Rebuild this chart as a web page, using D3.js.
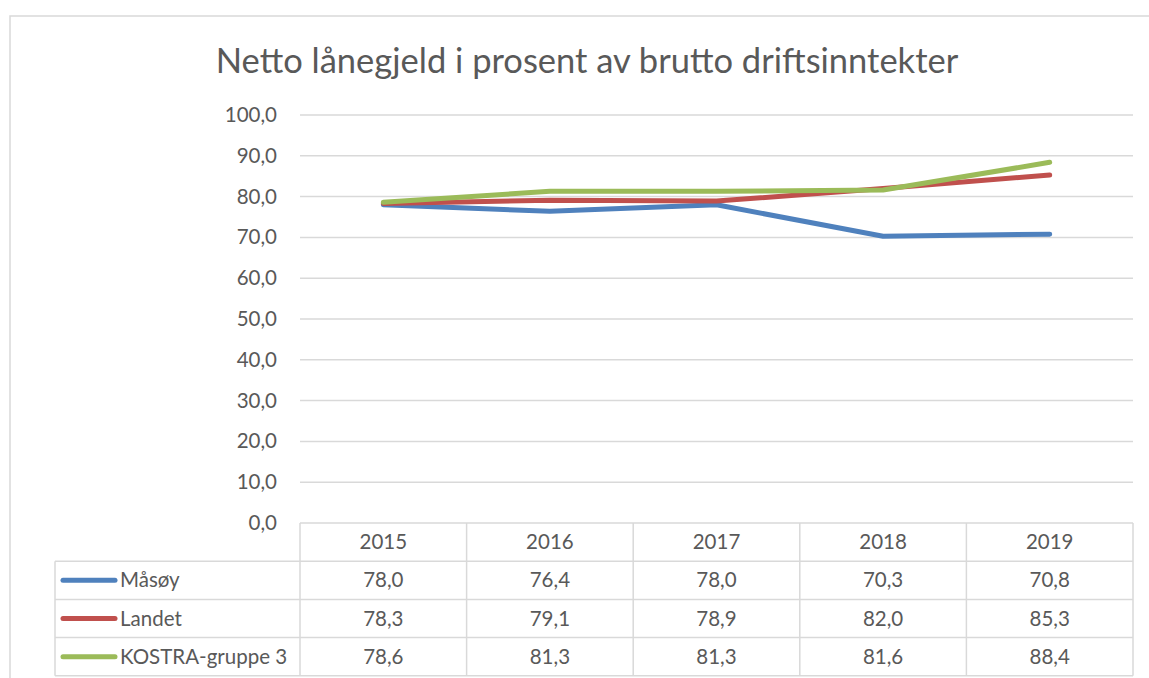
<!DOCTYPE html>
<html>
<head>
<meta charset="utf-8">
<script src="https://d3js.org/d3.v7.min.js"></script>
<style>
  body { margin: 0; background: #fff; }
  text { font-family: Lato, "Open Sans", sans-serif; fill: #595959; }
</style>
</head>
<body>
<svg width="1149" height="678"></svg>
<script>
  // chart data
  var years = ["2015", "2016", "2017", "2018", "2019"];
  var seriesNames = ["Måsøy", "Landet", "KOSTRA-gruppe 3"];
  var masoy = [78.0, 76.4, 78.0, 70.3, 70.8];
  var landet = [78.3, 79.1, 78.9, 82.0, 85.3];
  var kostra = [78.6, 81.3, 81.3, 81.6, 88.4];
  var yTicks = [0, 10, 20, 30, 40, 50, 60, 70, 80, 90, 100];
  var colors = ["#4f81bd", "#c0504d", "#9bbb59"];

  var series = [masoy, landet, kostra];

  var svg = d3.select("svg");
  var plotLeft = 300, plotRight = 1133, plotTop = 115, plotBottom = 523;
  var rowH = 38.2, legendLeft = 55;
  var gridColor = "#d9d9d9";
  var fs = "20.5px";
  var fmt = function(d) { return d3.format(".1f")(d).replace(".", ","); };

  // outer chart border
  svg.append("rect")
    .attr("x", 10).attr("y", 16)
    .attr("width", 1160).attr("height", 700)
    .attr("fill", "none").attr("stroke", gridColor).attr("stroke-width", 1.5);

  // title
  svg.append("text")
    .attr("x", 587).attr("y", 73)
    .attr("text-anchor", "middle")
    .style("font-size", "34.5px")
    .text("Netto lånegjeld i prosent av brutto driftsinntekter");

  var x = d3.scaleBand().domain(years).range([plotLeft, plotRight]);
  var y = d3.scaleLinear().domain([0, 100]).range([plotBottom, plotTop]);

  // gridlines
  svg.append("g").selectAll("line")
    .data(yTicks.filter(function(d) { return d > 0; })).enter().append("line")
    .attr("x1", plotLeft).attr("x2", plotRight)
    .attr("y1", function(d) { return y(d); })
    .attr("y2", function(d) { return y(d); })
    .attr("stroke", gridColor).attr("stroke-width", 1.5);

  // y labels
  svg.append("g").selectAll("text")
    .data(yTicks).enter().append("text")
    .attr("x", 277)
    .attr("y", function(d) { return y(d) + 7; })
    .attr("text-anchor", "end")
    .style("font-size", fs)
    .text(fmt);

  // lines
  var line = d3.line()
    .x(function(d, i) { return x(years[i]) + x.bandwidth() / 2; })
    .y(function(d) { return y(d); });

  svg.append("g").selectAll("path")
    .data(series).enter().append("path")
    .attr("d", line)
    .attr("fill", "none")
    .attr("stroke", function(d, i) { return colors[i]; })
    .attr("stroke-width", 5)
    .attr("stroke-linecap", "round")
    .attr("stroke-linejoin", "round");

  // data table
  var gT = svg.append("g");
  var tableBottom = plotBottom + rowH * 4;
  gT.append("line")
    .attr("x1", plotLeft).attr("x2", plotRight)
    .attr("y1", plotBottom).attr("y2", plotBottom)
    .attr("stroke", gridColor).attr("stroke-width", 1.5);
  for (var r = 1; r <= 4; r++) {
    gT.append("line")
      .attr("x1", legendLeft).attr("x2", plotRight)
      .attr("y1", plotBottom + rowH * r).attr("y2", plotBottom + rowH * r)
      .attr("stroke", gridColor).attr("stroke-width", 1.5);
  }
  gT.selectAll("line.v")
    .data(d3.range(years.length + 1)).enter().append("line")
    .attr("class", "v")
    .attr("x1", function(d) { return plotLeft + d * x.bandwidth(); })
    .attr("x2", function(d) { return plotLeft + d * x.bandwidth(); })
    .attr("y1", plotBottom).attr("y2", tableBottom)
    .attr("stroke", gridColor).attr("stroke-width", 1.5);
  gT.append("line")
    .attr("x1", legendLeft).attr("x2", legendLeft)
    .attr("y1", plotBottom + rowH).attr("y2", tableBottom)
    .attr("stroke", gridColor).attr("stroke-width", 1.5);

  // header
  gT.selectAll("text.yr")
    .data(years).enter().append("text")
    .attr("x", function(d) { return x(d) + x.bandwidth() / 2; })
    .attr("y", plotBottom + rowH / 2 + 7)
    .attr("text-anchor", "middle")
    .style("font-size", fs)
    .text(function(d) { return d; });

  // rows
  series.forEach(function(s, si) {
    var cy = plotBottom + rowH * (si + 1) + rowH / 2;
    gT.append("line")
      .attr("x1", 63).attr("x2", 115)
      .attr("y1", cy).attr("y2", cy)
      .attr("stroke", colors[si]).attr("stroke-width", 5)
      .attr("stroke-linecap", "round");
    gT.append("text")
      .attr("x", 120).attr("y", cy + 7)
      .style("font-size", fs)
      .text(seriesNames[si]);
    gT.selectAll("text.v" + si)
      .data(s).enter().append("text")
      .attr("x", function(d, i) { return x(years[i]) + x.bandwidth() / 2; })
      .attr("y", cy + 7)
      .attr("text-anchor", "middle")
      .style("font-size", fs)
      .text(fmt);
  });
</script>
</body>
</html>
